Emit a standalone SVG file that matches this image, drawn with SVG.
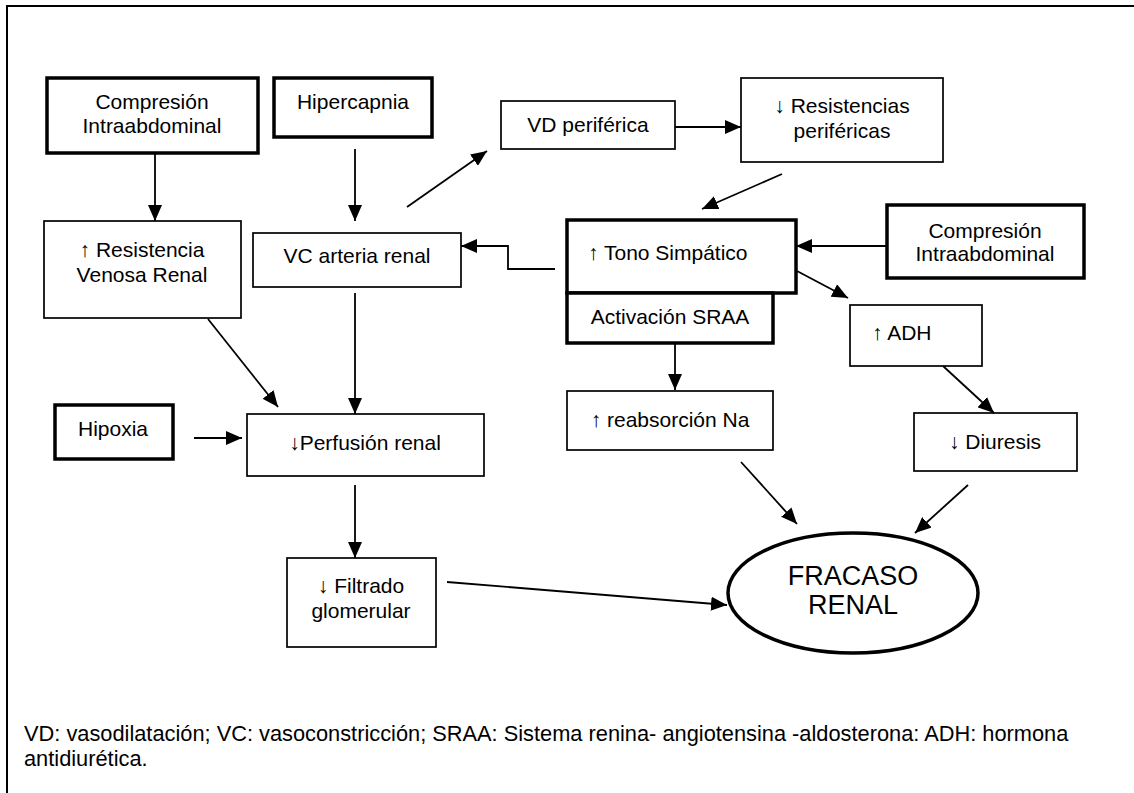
<svg xmlns="http://www.w3.org/2000/svg" width="1134" height="793" viewBox="0 0 1134 793">
<defs>
<marker id="ah" viewBox="0 0 16 14" refX="16" refY="7" markerWidth="16" markerHeight="14" markerUnits="userSpaceOnUse" orient="auto"><path d="M0,0 L16,7 L0,14 z" fill="#000"/></marker>
<style>
.thin{fill:#fff;stroke:#000;stroke-width:1.7}
.thick{fill:#fff;stroke:#000;stroke-width:3.5}
text{font-family:"Liberation Sans",Arial,sans-serif;font-size:21px;fill:#000}
.c{text-anchor:middle}
.big{font-size:27px}
.foot{font-size:21.8px}
.con line,.con path{stroke:#000;stroke-width:1.8;fill:none;marker-end:url(#ah)}
</style>
</defs>
<rect width="1134" height="793" fill="#fff"/>
<path d="M7,793 V6 H1134" fill="none" stroke="#000" stroke-width="2"/>

<g id="comp1"><rect class="thick" x="47" y="78" width="211" height="75"/><text class="c" x="152" y="109">Compresión</text><text class="c" x="152" y="133">Intraabdominal</text></g>
<g id="hipercapnia"><rect class="thick" x="274" y="78" width="158" height="59"/><text class="c" x="353" y="109">Hipercapnia</text></g>
<g id="resvenosa"><rect class="thin" x="44" y="221" width="197" height="97"/><text class="c" x="142" y="257">↑ Resistencia</text><text class="c" x="142" y="282">Venosa Renal</text></g>
<g id="vcarteria"><rect class="thin" x="253" y="233" width="208" height="54"/><text class="c" x="357" y="263">VC arteria renal</text></g>
<g id="vdperiferica"><rect class="thin" x="501" y="101" width="174" height="48"/><text class="c" x="588" y="132">VD periférica</text></g>
<g id="resperif"><rect class="thin" x="741" y="78" width="202" height="84"/><text class="c" x="842" y="113">↓ Resistencias</text><text class="c" x="842" y="138">periféricas</text></g>
<g id="tono"><rect class="thick" x="567" y="220" width="229" height="73"/><text x="588" y="260">↑ Tono Simpático</text></g>
<g id="sraa"><rect class="thick" x="567" y="293" width="206" height="50"/><text class="c" x="670" y="324">Activación SRAA</text></g>
<g id="comp2"><rect class="thick" x="887" y="205" width="197" height="73"/><text class="c" x="985" y="238">Compresión</text><text class="c" x="985" y="261">Intraabdominal</text></g>
<g id="adh"><rect class="thin" x="850" y="305" width="132" height="61"/><text x="872" y="340">↑ ADH</text></g>
<g id="diuresis"><rect class="thin" x="914" y="413" width="163" height="58"/><text class="c" x="995" y="449">↓ Diuresis</text></g>
<g id="reabs"><rect class="thin" x="567" y="391" width="206" height="59"/><text class="c" x="670" y="427">↑ reabsorción Na</text></g>
<g id="hipoxia"><rect class="thick" x="55" y="405" width="118" height="54"/><text class="c" x="113" y="436">Hipoxia</text></g>
<g id="perfusion"><rect class="thin" x="247" y="414" width="237" height="62"/><text class="c" x="365" y="450">↓Perfusión renal</text></g>
<g id="filtrado"><rect class="thin" x="287" y="558" width="149" height="89"/><text class="c" x="361" y="593">↓ Filtrado</text><text class="c" x="361" y="618">glomerular</text></g>
<g id="fracaso"><ellipse cx="853" cy="593" rx="125" ry="60" fill="#fff" stroke="#000" stroke-width="3.5"/><text class="c big" x="853" y="585">FRACASO</text><text class="c big" x="853" y="614">RENAL</text></g>

<g id="connectors" class="con">
<line x1="155" y1="153" x2="155" y2="221"/>
<line x1="355" y1="149" x2="355" y2="221"/>
<line x1="407" y1="207" x2="487" y2="151"/>
<line x1="675" y1="127" x2="741" y2="127"/>
<line x1="782" y1="174" x2="702" y2="209"/>
<path d="M555,269 H508 V246 H461"/>
<line x1="887" y1="246" x2="796" y2="246"/>
<line x1="797" y1="271" x2="848" y2="298"/>
<line x1="208" y1="319" x2="278" y2="407"/>
<line x1="355" y1="293" x2="355" y2="414"/>
<line x1="194" y1="438" x2="242" y2="438"/>
<line x1="355" y1="485" x2="355" y2="558"/>
<line x1="675" y1="343" x2="675" y2="390"/>
<line x1="943" y1="366" x2="994" y2="413"/>
<line x1="741" y1="462" x2="797" y2="524"/>
<line x1="968" y1="485" x2="915" y2="533"/>
<line x1="447" y1="582" x2="727" y2="605"/>
</g>

<text class="foot" x="24" y="741">VD: vasodilatación; VC: vasoconstricción; SRAA: Sistema renina- angiotensina -aldosterona: ADH: hormona</text>
<text class="foot" x="24" y="766">antidiurética.</text>
</svg>
